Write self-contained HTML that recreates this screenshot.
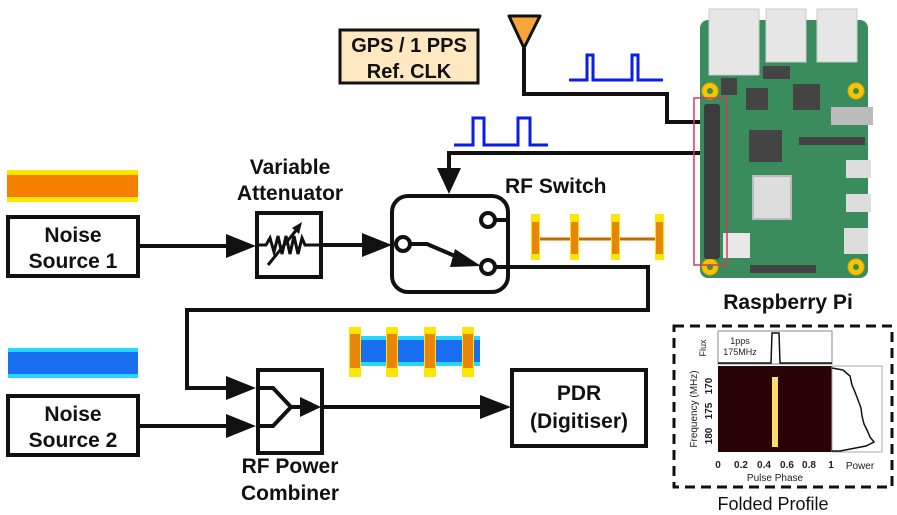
<!DOCTYPE html>
<html><head><meta charset="utf-8">
<style>
html,body{margin:0;padding:0;background:#fff;}
svg{display:block;}
text{font-family:"Liberation Sans",Arial,sans-serif;}
.b{font-weight:bold;font-size:21px;fill:#111;}
</style></head>
<body>
<svg width="897" height="515" viewBox="0 0 897 515" xmlns="http://www.w3.org/2000/svg">

<!-- noise strips -->
<rect x="7" y="170" width="131" height="32" fill="#ffe600"/>
<rect x="7" y="175" width="131" height="22" fill="#f57f00"/>
<rect x="8" y="348" width="130" height="30" fill="#25d8ff"/>
<rect x="8" y="352" width="130" height="22" fill="#1a6ff0"/>

<!-- Noise Source boxes -->
<rect x="8" y="217" width="130" height="59" fill="#fff" stroke="#111" stroke-width="4"/>
<text class="b" x="73" y="242" text-anchor="middle">Noise</text>
<text class="b" x="73" y="268" text-anchor="middle">Source 1</text>
<rect x="8" y="396" width="130" height="59" fill="#fff" stroke="#111" stroke-width="4"/>
<text class="b" x="73" y="421" text-anchor="middle">Noise</text>
<text class="b" x="73" y="447" text-anchor="middle">Source 2</text>

<!-- NS1 -> attenuator -->
<line x1="138" y1="246" x2="232" y2="246" stroke="#111" stroke-width="4"/>
<polygon points="226,234 256,246 226,258" fill="#111"/>
<text class="b" x="290" y="174" text-anchor="middle">Variable</text>
<text class="b" x="290" y="200" text-anchor="middle">Attenuator</text>
<rect x="257" y="213" width="64" height="64" fill="#fff" stroke="#111" stroke-width="4"/>
<polyline points="257,245 266,245 270,238 274,252 278,236 282,254 286,236 290,254 294,236 298,254 302,238 305,245 321,245" fill="none" stroke="#111" stroke-width="3"/>
<line x1="268" y1="265" x2="298" y2="228" stroke="#111" stroke-width="3"/>
<polygon points="302,222 292,228 299,234" fill="#111"/>

<!-- attenuator -> switch -->
<line x1="321" y1="245" x2="370" y2="245" stroke="#111" stroke-width="4"/>
<polygon points="362,233 392,245 362,257" fill="#111"/>

<!-- RF Switch -->
<rect x="392" y="196" width="116" height="96" rx="16" fill="#fff" stroke="#111" stroke-width="4"/>
<text class="b" x="505" y="193">RF Switch</text>
<circle cx="403" cy="244" r="7" fill="#fff" stroke="#111" stroke-width="4"/>
<circle cx="488" cy="220" r="7" fill="#fff" stroke="#111" stroke-width="4"/>
<circle cx="488" cy="267" r="7" fill="#fff" stroke="#111" stroke-width="4"/>
<line x1="495" y1="220" x2="508" y2="220" stroke="#111" stroke-width="4"/>
<polyline points="410,244 427,244 462,259" fill="none" stroke="#111" stroke-width="4"/>
<polygon points="455,249 481,266 450,267" fill="#111"/>

<!-- switch out -> combiner -->
<polyline points="495,267 648,267 648,310 187,310 187,388 235,388" fill="none" stroke="#111" stroke-width="4"/>
<polygon points="226,376 256,388 226,400" fill="#111"/>
<line x1="138" y1="426" x2="235" y2="426" stroke="#111" stroke-width="4"/>
<polygon points="226,414 256,426 226,438" fill="#111"/>

<!-- gated pulses orange -->
<line x1="535" y1="239" x2="658" y2="239" stroke="#c06a00" stroke-width="3"/>
<g fill="#ffe600">
<rect x="531" y="214" width="9" height="46"/><rect x="570" y="214" width="9" height="46"/><rect x="611" y="214" width="9" height="46"/><rect x="655" y="214" width="9" height="46"/>
</g>
<g fill="#e8850a">
<rect x="532" y="222" width="7" height="32"/><rect x="571" y="222" width="7" height="32"/><rect x="612" y="222" width="7" height="32"/><rect x="656" y="222" width="7" height="32"/>
</g>

<!-- combined blue/orange -->
<rect x="352" y="336" width="128" height="30" fill="#25d8ff"/>
<rect x="352" y="340" width="128" height="22" fill="#1a6ff0"/>
<g fill="#ffe600">
<rect x="349" y="327" width="12" height="50"/><rect x="386" y="327" width="12" height="50"/><rect x="424" y="327" width="12" height="50"/><rect x="462" y="327" width="12" height="50"/>
</g>
<g fill="#e8850a">
<rect x="350" y="334" width="10" height="34"/><rect x="387" y="334" width="10" height="34"/><rect x="425" y="334" width="10" height="34"/><rect x="463" y="334" width="10" height="34"/>
</g>

<!-- Combiner -->
<rect x="258" y="370" width="64" height="83" fill="#fff" stroke="#111" stroke-width="4"/>
<polyline points="258,388 273,388 291,407 273,426 258,426" fill="none" stroke="#111" stroke-width="4"/>
<line x1="291" y1="407" x2="305" y2="407" stroke="#111" stroke-width="4"/>
<polygon points="300,397 321,407 300,417" fill="#111"/>
<text class="b" x="290" y="473" text-anchor="middle">RF Power</text>
<text class="b" x="290" y="500" text-anchor="middle">Combiner</text>

<!-- combiner -> PDR -->
<line x1="322" y1="407" x2="490" y2="407" stroke="#111" stroke-width="4"/>
<polygon points="480,395 511,407 480,419" fill="#111"/>
<rect x="512" y="370" width="134" height="76" fill="#fff" stroke="#111" stroke-width="4"/>
<text class="b" x="579" y="400" text-anchor="middle">PDR</text>
<text class="b" x="579" y="428" text-anchor="middle">(Digitiser)</text>

<!-- GPS -->
<rect x="340" y="30" width="138" height="53" fill="#fde8c2" stroke="#111" stroke-width="3"/>
<text class="b" x="409" y="52" text-anchor="middle" style="font-size:20px">GPS / 1 PPS</text>
<text class="b" x="409" y="78" text-anchor="middle" style="font-size:20px">Ref. CLK</text>
<polygon points="509,16 540,16 524,48" fill="#f8a53a" stroke="#111" stroke-width="3" stroke-linejoin="round"/>
<polyline points="524,48 524,94 667,94 667,122 708,122" fill="none" stroke="#111" stroke-width="4"/>
<polyline points="569,80 587,80 587,55 593,55 593,80 632,80 632,55 638,55 638,80 663,80" fill="none" stroke="#0a1ee6" stroke-width="3"/>
<polyline points="454,145 473,145 473,118 484,118 484,145 518,145 518,118 530,118 530,145 548,145" fill="none" stroke="#0a1ee6" stroke-width="3"/>
<polyline points="708,153 449,153 449,175" fill="none" stroke="#111" stroke-width="4"/>
<polygon points="437,168 449,194 461,168" fill="#111"/>

<!-- Raspberry Pi -->
<rect x="700" y="20" width="168" height="258" rx="8" fill="#3a8c5d"/>
<rect x="709" y="9" width="50" height="66" fill="#e6e6e6" stroke="#ccc"/>
<rect x="766" y="9" width="40" height="53" fill="#e6e6e6" stroke="#ccc"/>
<rect x="817" y="9" width="40" height="53" fill="#e6e6e6" stroke="#ccc"/>
<rect x="763" y="66" width="27" height="13" fill="#444"/>
<rect x="746" y="88" width="22" height="22" fill="#444"/>
<rect x="793" y="84" width="27" height="26" fill="#444"/>
<rect x="749" y="130" width="33" height="32" fill="#444"/>
<rect x="799" y="137" width="66" height="8" fill="#444"/>
<rect x="753" y="176" width="38" height="43" fill="#ddd" stroke="#bbb" stroke-width="2"/>
<rect x="723" y="233" width="27" height="25" fill="#e8e8e8"/>
<rect x="750" y="265" width="66" height="8" fill="#444"/>
<rect x="831" y="107" width="42" height="18" fill="#bbb"/>
<rect x="846" y="160" width="25" height="18" fill="#ddd"/>
<rect x="846" y="194" width="25" height="18" fill="#ddd"/>
<rect x="844" y="228" width="24" height="26" fill="#ddd"/>
<rect x="721" y="78" width="16" height="17" fill="#444"/>
<g fill="#f7c400" stroke="#e0a800" stroke-width="1">
<circle cx="710" cy="91" r="8"/><circle cx="856" cy="91" r="8"/><circle cx="710" cy="267" r="8"/><circle cx="856" cy="267" r="8"/>
</g>
<g fill="#3a8c5d"><circle cx="710" cy="91" r="3"/><circle cx="856" cy="91" r="3"/><circle cx="710" cy="267" r="3"/><circle cx="856" cy="267" r="3"/></g>
<rect x="704" y="104" width="16" height="155" rx="3" fill="#3b3b3b"/>
<rect x="694" y="98" width="33" height="167" fill="none" stroke="#d63a5a" stroke-width="1.5"/>
<text class="b" x="788" y="309" text-anchor="middle">Raspberry Pi</text>

<!-- Folded profile -->
<rect x="674" y="326" width="218" height="161" fill="none" stroke="#111" stroke-width="3" stroke-dasharray="10,6"/>
<rect x="718" y="331" width="114" height="33" fill="#fff" stroke="#888" stroke-width="1"/>
<polyline points="718,363 771,363 772,333 779,333 780,363 832,363" fill="none" stroke="#111" stroke-width="1.5"/>
<text x="740" y="344" font-size="9" fill="#222" text-anchor="middle">1pps</text>
<text x="740" y="355" font-size="9" fill="#222" text-anchor="middle">175MHz</text>
<text x="706" y="348" font-size="9" fill="#222" text-anchor="middle" transform="rotate(-90 706 348)">Flux</text>
<rect x="718" y="366" width="114" height="86" fill="#2a0305"/>
<rect x="772" y="377" width="6" height="70" fill="#f9de6a"/>
<rect x="832" y="366" width="50" height="86" fill="#fff" stroke="#aaa" stroke-width="1"/>
<polyline points="832,368 843,370 850,376 852,385 855,392 858,400 861,408 862,416 864,424 867,430 870,437 874,442 866,446 840,451 832,451" fill="none" stroke="#111" stroke-width="1.5"/>
<g font-size="10" font-weight="bold" fill="#222">
<text x="712" y="386" text-anchor="middle" transform="rotate(-90 712 386)">170</text>
<text x="712" y="411" text-anchor="middle" transform="rotate(-90 712 411)">175</text>
<text x="712" y="436" text-anchor="middle" transform="rotate(-90 712 436)">180</text>
</g>
<text x="697" y="409" font-size="10" fill="#222" text-anchor="middle" transform="rotate(-90 697 409)">Frequency (MHz)</text>
<g font-size="10" font-weight="bold" fill="#222" text-anchor="middle">
<text x="718" y="468">0</text><text x="741" y="468">0.2</text><text x="764" y="468">0.4</text><text x="787" y="468">0.6</text><text x="809" y="468">0.8</text><text x="831" y="468">1</text>
</g>
<text x="775" y="481" font-size="10" fill="#222" text-anchor="middle">Pulse Phase</text>
<text x="860" y="469" font-size="10" fill="#222" text-anchor="middle">Power</text>
<text x="773" y="510" font-size="18" fill="#111" text-anchor="middle">Folded Profile</text>
</svg>
</body></html>
